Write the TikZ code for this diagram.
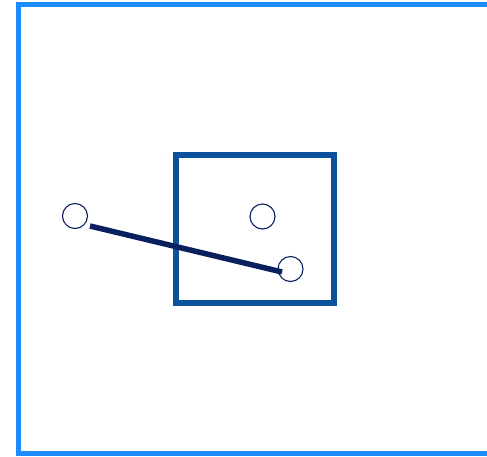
\documentclass[tikz,border=0pt]{standalone}
\usepackage{tikz}
\usetikzlibrary{positioning}
\definecolor{framecol}{HTML}{1A8CFF}
\definecolor{boxcol}{HTML}{0B519C}
\definecolor{navy}{HTML}{0A1F5E}
\begin{document}
\begin{tikzpicture}[
    x=1pt, y=-1pt,
    frame/.style={draw=framecol, line width=5.5pt},
    box/.style={draw=boxcol, line width=5.5pt, line join=miter},
    spot/.style={circle, draw=navy, line width=1.1pt, minimum size=25pt, inner sep=0pt},
    link/.style={draw=navy, line width=5.5pt}
]
    \useasboundingbox (0,0) rectangle (487,456);
    \clip (0,0) rectangle (487,456);
    % Outer frame
    \draw[frame] (18.5,4.5) rectangle (500,453.5);
    % Inner box
    \draw[box] (176,155) rectangle (334,303);
    % Spots
    \node[spot] (left) at (75,216) {};
    \node[spot] (mid) at (262.5,216.5) {};
    \node[spot] (low) at (290.5,269) {};
    % Link
    \coordinate (start) at (90,226);
    \coordinate (stop) at (282,272);
    \draw[link] (start) -- (stop);
\end{tikzpicture}
\end{document}
